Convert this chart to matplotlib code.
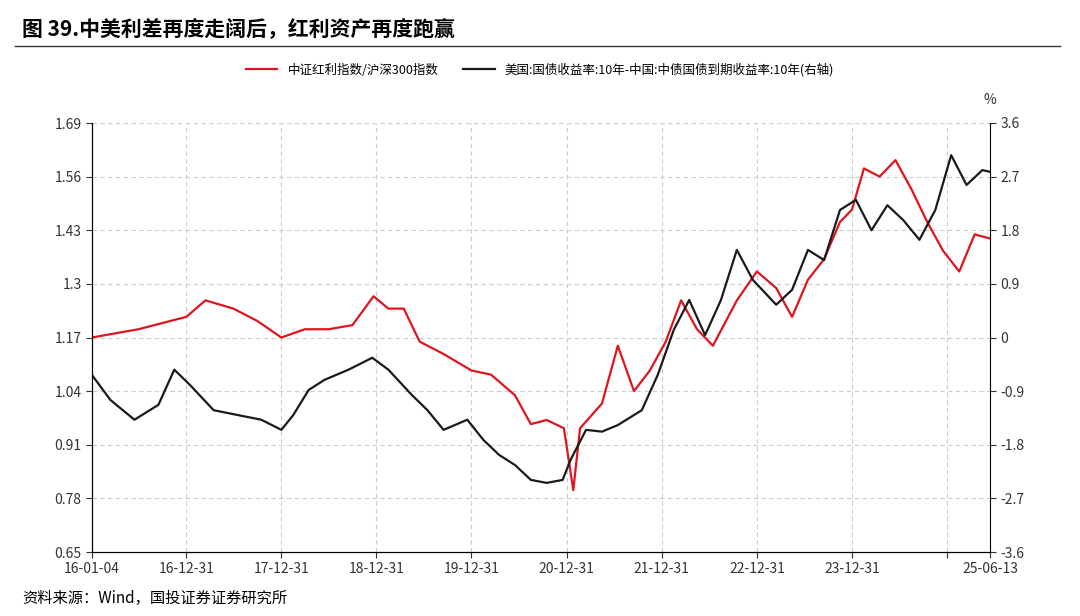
import matplotlib
matplotlib.use("Agg")
import matplotlib.pyplot as plt
import matplotlib.dates as mdates
import pandas as pd

plt.rcParams['font.family'] = ['Noto Sans CJK SC', 'DejaVu Sans']

red_dates = ["2016-01-04","2016-06-30","2016-12-31","2017-03-15","2017-06-30","2017-09-30","2017-12-31","2018-03-31","2018-06-30","2018-09-30","2018-12-20","2019-02-15","2019-04-15","2019-06-15","2019-09-15","2019-12-31","2020-03-15","2020-06-15","2020-08-15","2020-10-15","2020-12-20","2021-01-25","2021-02-20","2021-05-15","2021-07-15","2021-09-15","2021-11-15","2022-01-15","2022-03-15","2022-05-15","2022-07-15","2022-10-15","2022-12-31","2023-03-15","2023-05-15","2023-07-15","2023-09-15","2023-11-15","2023-12-31","2024-02-15","2024-04-15","2024-06-15","2024-08-15","2024-10-15","2024-12-15","2025-02-15","2025-04-15","2025-06-13"]
red_vals = [1.17,1.19,1.22,1.26,1.24,1.21,1.17,1.19,1.19,1.20,1.27,1.24,1.24,1.16,1.13,1.09,1.08,1.03,0.96,0.97,0.95,0.80,0.95,1.01,1.15,1.04,1.09,1.16,1.26,1.19,1.15,1.26,1.33,1.29,1.22,1.31,1.36,1.45,1.48,1.58,1.56,1.60,1.53,1.45,1.38,1.33,1.42,1.41]

blk_dates = ["2016-01-04","2016-03-15","2016-06-15","2016-09-15","2016-11-15","2017-01-15","2017-04-15","2017-07-15","2017-10-15","2017-12-31","2018-02-15","2018-04-15","2018-06-15","2018-09-15","2018-12-15","2019-02-15","2019-05-15","2019-07-15","2019-09-15","2019-12-15","2020-02-15","2020-04-15","2020-06-15","2020-08-15","2020-10-15","2020-12-15","2021-01-15","2021-03-15","2021-05-15","2021-07-15","2021-10-15","2021-12-15","2022-02-15","2022-04-15","2022-06-15","2022-08-15","2022-10-15","2022-12-15","2023-03-15","2023-05-15","2023-07-15","2023-09-15","2023-11-15","2024-01-15","2024-03-15","2024-05-15","2024-07-15","2024-09-15","2024-11-15","2025-01-15","2025-03-15","2025-05-15","2025-06-13"]
blk_vals = [-0.63,-1.05,-1.38,-1.13,-0.54,-0.80,-1.22,-1.30,-1.38,-1.55,-1.30,-0.88,-0.71,-0.54,-0.34,-0.54,-0.96,-1.22,-1.55,-1.38,-1.72,-1.97,-2.14,-2.39,-2.44,-2.39,-2.05,-1.55,-1.58,-1.47,-1.22,-0.63,0.13,0.63,0.04,0.63,1.47,0.97,0.55,0.80,1.47,1.30,2.14,2.31,1.80,2.22,1.97,1.64,2.14,3.06,2.56,2.81,2.78]

xtick_dates = ["2016-01-04","2016-12-31","2017-12-31","2018-12-31","2019-12-31","2020-12-31","2021-12-31","2022-12-31","2023-12-31","2024-12-31","2025-06-13"]
xtick_labels = ["16-01-04","16-12-31","17-12-31","18-12-31","19-12-31","20-12-31","21-12-31","22-12-31","23-12-31","","25-06-13"]
left_ticks = [0.65,0.78,0.91,1.04,1.17,1.3,1.43,1.56,1.69]
right_ticks = [-3.6,-2.7,-1.8,-0.9,0,0.9,1.8,2.7,3.6]

fig = plt.figure(figsize=(10.8,6.16), dpi=100)
ax = fig.add_axes([92/1080, 1-552/616, 898/1080, 429/616])
ax2 = ax.twinx()
rd = pd.to_datetime(red_dates); bd = pd.to_datetime(blk_dates); xd = pd.to_datetime(xtick_dates)
l1, = ax.plot(rd, red_vals, color='#e0141e', lw=1.6)
l2, = ax2.plot(bd, blk_vals, color='#1a1a1a', lw=1.6)
ax.set_xlim(xd[0], xd[-1])
ax.set_ylim(0.65,1.69); ax2.set_ylim(-3.6,3.6)
ax.set_yticks(left_ticks); ax.set_yticklabels([f"{v:g}" for v in left_ticks])
ax2.set_yticks(right_ticks); ax2.set_yticklabels([f"{v:g}" for v in right_ticks])
ax.set_xticks(xd); ax.set_xticklabels(xtick_labels)
ax.grid(True, ls=(0,(4,3)), color='#cccccc', lw=0.8)
for a in (ax, ax2):
    for s in ('top',): a.spines[s].set_visible(False)
    a.tick_params(labelsize=10, colors='#333333', direction='out', length=4)
ax.spines['right'].set_visible(False)
fig.text(990/1080, 1-100/616, "%", ha='center', va='center', fontsize=10, color='#333333')
fig.legend([l1,l2], ["中证红利指数/沪深300指数","美国:国债收益率:10年-中国:中债国债到期收益率:10年(右轴)"],
           loc='center', bbox_to_anchor=(0.5, 1-70/616), ncol=2, frameon=False, fontsize=9, handlelength=2.5)
fig.text(22/1080, 1-30/616, "图 39.中美利差再度走阔后，红利资产再度跑赢", fontsize=15, fontweight='bold', va='center')
fig.add_artist(plt.Line2D([15/1080, 1060/1080], [1-46/616]*2, color='#333333', lw=1))
fig.text(22/1080, 1-598/616, "资料来源：Wind，国投证券证券研究所", fontsize=11, style='italic', va='center')
fig.savefig("out.png", dpi=100)
